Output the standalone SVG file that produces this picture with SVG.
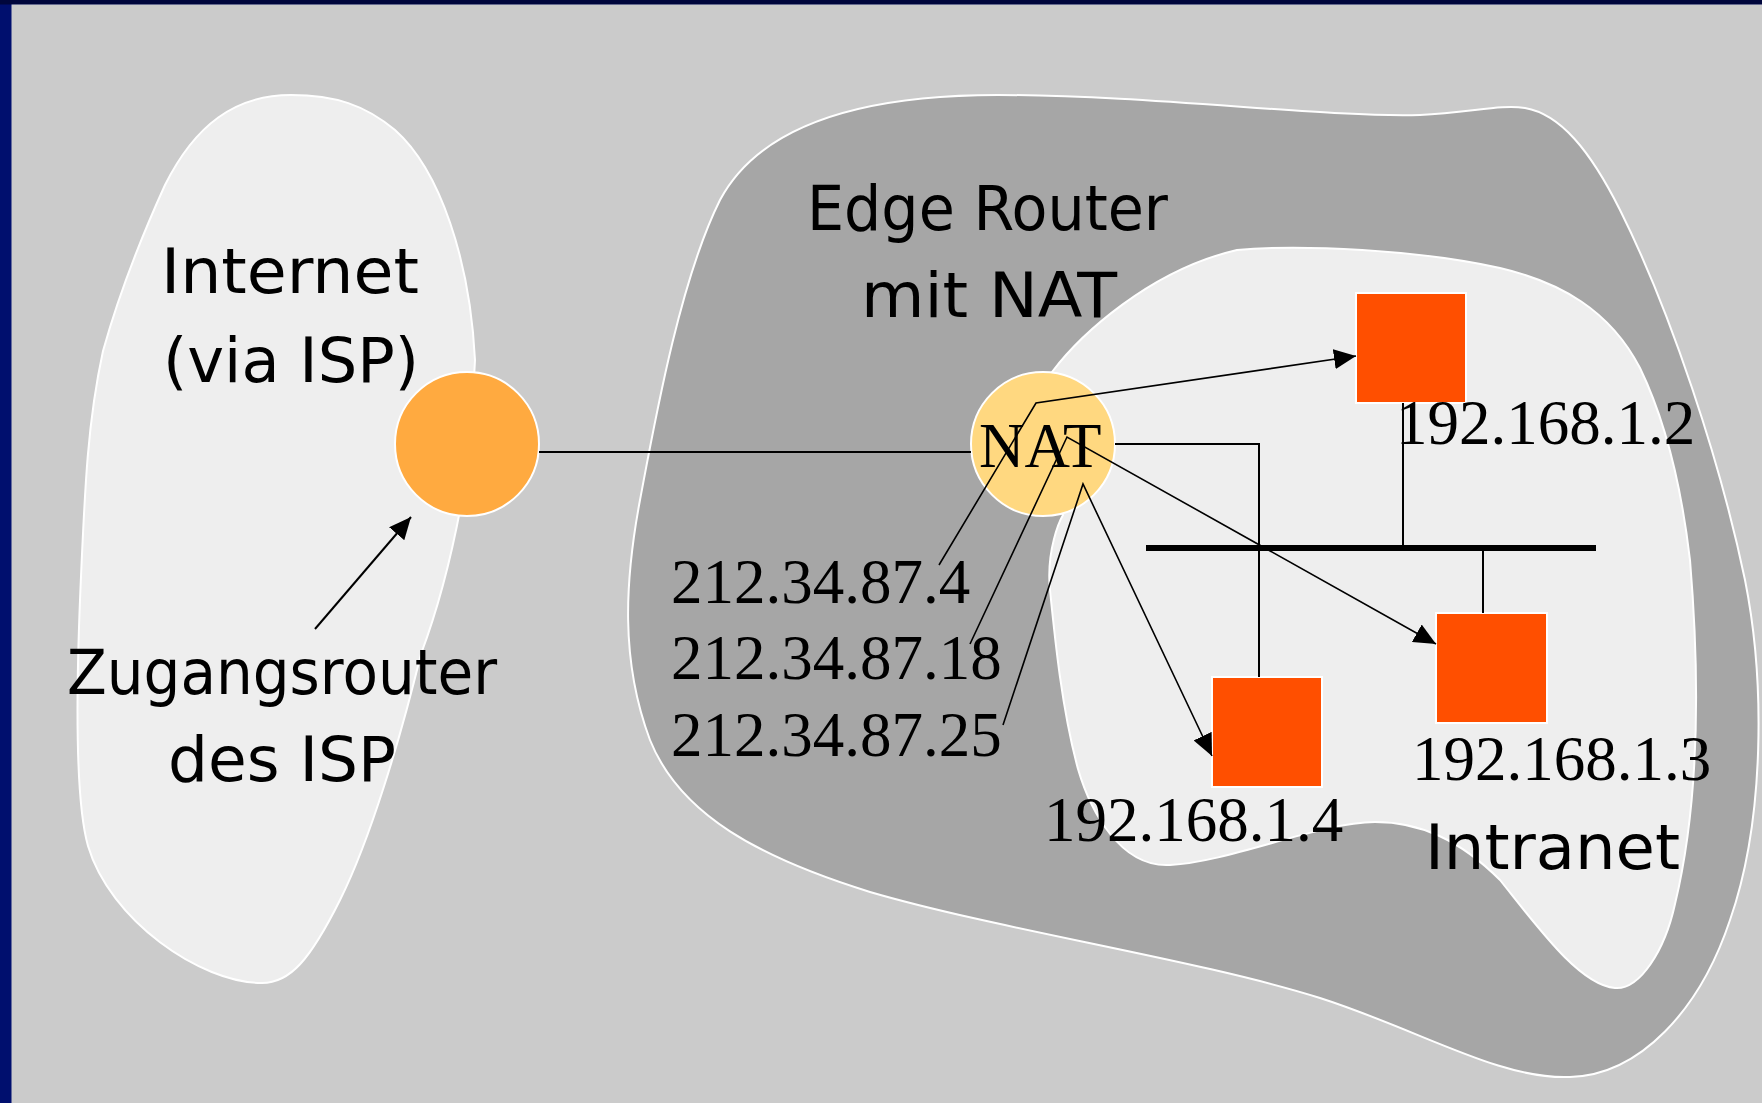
<svg xmlns="http://www.w3.org/2000/svg" width="1762" height="1103" viewBox="0 0 1762 1103">
<style>
.comic{font-family:"DejaVu Sans","Liberation Sans",sans-serif;font-size:62px;fill:#000}
.serif{font-family:"Liberation Serif","Times New Roman",serif;font-size:63px;fill:#000}
.blob{stroke:#fff;stroke-width:2}
.box{fill:#FF4F00;stroke:#fff;stroke-width:2}
.ln{fill:none;stroke:#000;stroke-width:2}
.thin{fill:none;stroke:#000;stroke-width:1.6}
</style>
<defs>
<marker id="ah" markerUnits="userSpaceOnUse" markerWidth="22" markerHeight="20" refX="22" refY="10" orient="auto">
<path d="M0,0 L22,10 L0,20 z" fill="#000"/>
</marker>
</defs>
<rect x="0" y="0" width="1762" height="1103" fill="#000F6E"/>
<rect x="0" y="0" width="1762" height="4.5" fill="#00063C"/>
<rect x="11.5" y="4.5" width="1750.5" height="1098.5" fill="#CBCBCB"/>

<g id="internet-cloud">
<path class="blob" fill="#EEEEEE" d="M291,95 C335,95 365,105 395,130 C440,170 470,260 475,360 L470,450 C460,520 445,590 421,654 C400,740 370,840 340,900 C310,960 290,983 262,983 C200,983 110,920 88,846 C75,800 76,700 80,600 C85,480 88,420 103,351 C120,290 140,240 165,185 C195,125 235,95 291,95 Z"/>
<text class="comic" x="161" y="293" textLength="258" lengthAdjust="spacingAndGlyphs">Internet</text>
<text class="comic" x="163" y="382" textLength="256" lengthAdjust="spacingAndGlyphs">(via ISP)</text>
</g>

<g id="edge-router-cloud">
<path class="blob" fill="#A6A6A6" d="M998,95 C1150,95 1330,118 1420,115 C1470,113 1500,104 1525,108 C1560,114 1590,150 1620,210 C1670,310 1720,460 1745,580 C1765,680 1765,820 1730,920 C1700,1010 1640,1075 1570,1077 C1500,1080 1420,1030 1320,998 C1200,960 1000,930 870,892 C760,858 680,815 650,740 C620,660 625,580 640,500 C655,420 680,280 720,200 C760,125 860,95 998,95 Z"/>
<text class="comic" x="807" y="230" textLength="361" lengthAdjust="spacingAndGlyphs">Edge Router</text>
<text class="comic" x="861" y="317" textLength="256" lengthAdjust="spacingAndGlyphs">mit NAT</text>
</g>

<g id="intranet-cloud">
<path class="blob" fill="#EEEEEE" d="M1052,372 C1080,335 1150,270 1237,250 C1300,244 1420,250 1500,268 C1560,282 1610,310 1640,368 C1670,430 1683,500 1690,560 C1700,680 1700,800 1675,904 C1665,950 1640,990 1615,988 C1580,985 1540,930 1500,880 C1460,840 1420,822 1375,822 C1320,822 1230,862 1170,865 C1120,868 1090,810 1078,769 C1062,710 1055,640 1050,590 C1046,550 1060,520 1063,515 C1040,480 1035,420 1052,372 Z"/>
<text class="comic" x="1425" y="869" textLength="255" lengthAdjust="spacingAndGlyphs">Intranet</text>
</g>

<g id="access-router">
<circle cx="467" cy="444" r="72" fill="#FFAA40" stroke="#fff" stroke-width="2"/>
<text class="comic" x="67" y="694" textLength="430" lengthAdjust="spacingAndGlyphs">Zugangsrouter</text>
<text class="comic" x="168" y="781" textLength="228" lengthAdjust="spacingAndGlyphs">des ISP</text>
</g>

<g id="nat-router">
<circle cx="1043" cy="444" r="72" fill="#FFD880" stroke="#fff" stroke-width="2"/>
<text class="serif" x="979" y="467">NAT</text>
<text class="serif" x="671" y="603">212.34.87.4</text>
<text class="serif" x="671" y="679">212.34.87.18</text>
<text class="serif" x="671" y="756">212.34.87.25</text>
</g>

<g id="host-2">
<rect class="box" x="1356" y="293" width="110" height="110"/>
</g>
<g id="host-3">
<rect class="box" x="1436" y="613" width="111" height="110"/>
<text class="serif" x="1412" y="780">192.168.1.3</text>
</g>
<g id="host-4">
<rect class="box" x="1212" y="677" width="110" height="110"/>
<text class="serif" x="1044" y="841">192.168.1.4</text>
</g>

<g id="connectors">
<line class="ln" x1="539" y1="452" x2="971" y2="452"/>
<polyline class="ln" points="1115,444 1259,444 1259,677"/>
<line class="ln" x1="1403" y1="403" x2="1403" y2="548"/>
<line class="ln" x1="1483" y1="548" x2="1483" y2="613"/>
<line x1="1146" y1="548" x2="1596" y2="548" stroke="#000" stroke-width="6"/>
<polyline class="thin" points="939,565 1036,403 1356,356" marker-end="url(#ah)"/>
<polyline class="thin" points="970,644 1067,437 1436,644" marker-end="url(#ah)"/>
<polyline class="thin" points="1003,725 1083,484 1212,756" marker-end="url(#ah)"/>
<line class="ln" x1="315" y1="629" x2="411" y2="517" marker-end="url(#ah)"/>
</g>

<g id="host-2-label">
<text class="serif" x="1396" y="444">192.168.1.2</text>
</g>
</svg>
